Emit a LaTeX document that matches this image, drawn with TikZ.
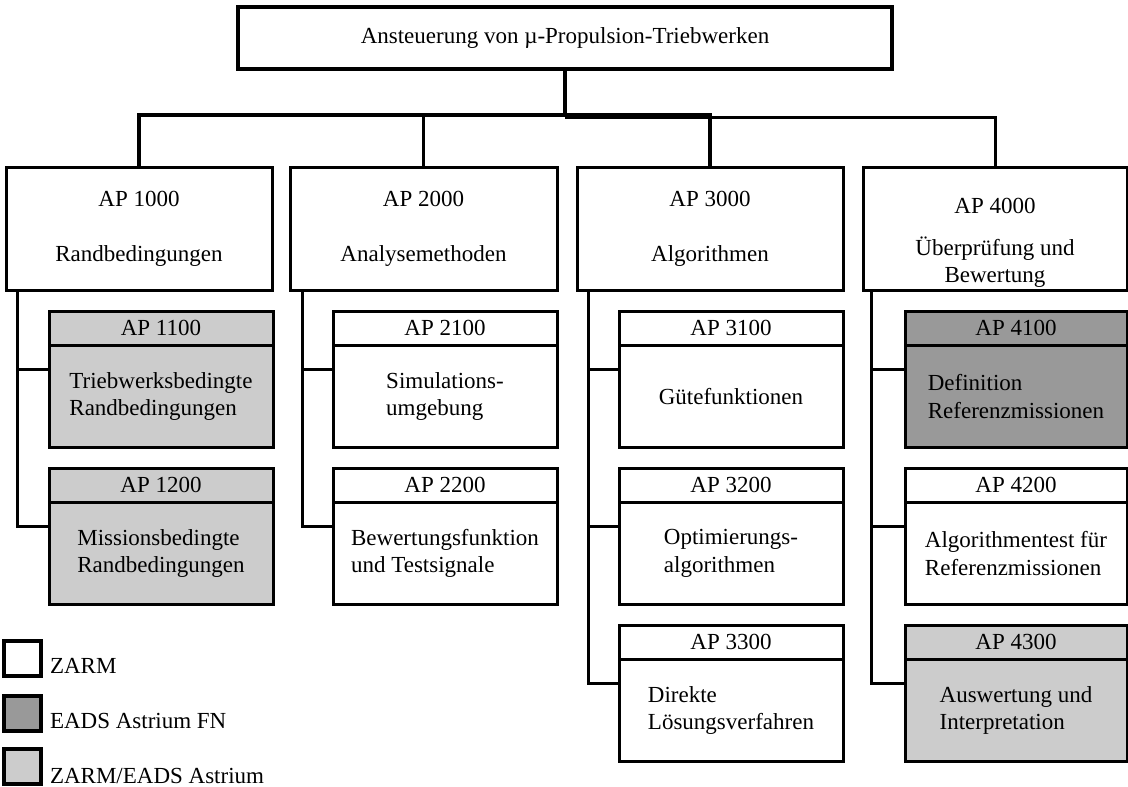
\documentclass[tikz,border=0pt]{standalone}
\usepackage{fontspec}
\setmainfont{Liberation Serif}
\definecolor{dgray}{HTML}{999999}
\definecolor{lgray}{HTML}{CCCCCC}
\tikzset{
  every node/.style={font=\fontsize{23}{27.5}\selectfont},
  box/.style={draw, line width=3pt, inner sep=0pt, outer sep=0pt, anchor=north west, align=center},
  lvone/.style={box, minimum height=123pt},
  hdr/.style={box, minimum height=34.5pt},
  bdy/.style={box, minimum height=102pt, align=left},
  conn/.style={line width=3pt},
  zarm/.style={fill=white},
  eads/.style={fill=dgray},
  both/.style={fill=lgray},
  legbox/.style={draw, line width=4.5pt, inner sep=0pt, outer sep=0pt, anchor=north west, minimum width=37pt, minimum height=35pt},
  legtxt/.style={anchor=base west, inner sep=0pt, outer sep=0pt},
}
\begin{document}
\begin{tikzpicture}[x=1pt, y=-1pt]
\useasboundingbox (0,0) rectangle (1128,787);

% title
\node[box, zarm, line width=4pt, minimum width=654pt, minimum height=62pt] (top) at (238,7) {Ansteuerung von µ-Propulsion-Triebwerken};

% level 1
\node[lvone, zarm, minimum width=266pt] (ap1000) at (6,167) {AP 1000\\[27.5pt]Randbedingungen};
\node[lvone, zarm, minimum width=267pt] (ap2000) at (290,167) {AP 2000\\[27.5pt]Analysemethoden};
\node[lvone, zarm, minimum width=266pt] (ap3000) at (577,167) {AP 3000\\[27.5pt]Algorithmen};
\node[lvone, zarm, minimum width=264pt] (ap4000) at (863,167) {};
\node[align=center, inner sep=0pt] (t4000) at (995,243) {AP 4000\\[14.5pt]Überprüfung und\\Bewertung};

% column 1
\node[hdr, both, minimum width=224pt] (h11) at (49,311) {AP 1100};
\node[bdy, both, minimum width=224pt] (b11) at (49,345.5) {Triebwerksbedingte\\Randbedingungen};
\node[hdr, both, minimum width=224pt] (h12) at (49,468) {AP 1200};
\node[bdy, both, minimum width=224pt] (b12) at (49,502.5) {Missionsbedingte\\Randbedingungen};

% column 2
\node[hdr, zarm, minimum width=224pt] (h21) at (333,311) {AP 2100};
\node[bdy, zarm, minimum width=224pt] (b21) at (333,345.5) {Simulations-\\umgebung};
\node[hdr, zarm, minimum width=224pt] (h22) at (333,468) {AP 2200};
\node[bdy, zarm, minimum width=224pt] (b22) at (333,502.5) {Bewertungsfunktion\\und Testsignale};

% column 3
\node[hdr, zarm, minimum width=224pt] (h31) at (619,311) {AP 3100};
\node[bdy, zarm, minimum width=224pt] (b31) at (619,345.5) {Gütefunktionen};
\node[hdr, zarm, minimum width=224pt] (h32) at (619,468) {AP 3200};
\node[bdy, zarm, minimum width=224pt] (b32) at (619,502.5) {Optimierungs-\\algorithmen};
\node[hdr, zarm, minimum width=224pt] (h33) at (619,625) {AP 3300};
\node[bdy, zarm, minimum width=224pt] (b33) at (619,659.5) {Direkte\\Lösungsverfahren};

% column 4
\node[hdr, eads, minimum width=222pt] (h41) at (905,311) {AP 4100};
\node[bdy, eads, minimum width=222pt] (b41) at (905,345.5) {Definition\\Referenzmissionen};
\node[hdr, zarm, minimum width=222pt] (h42) at (905,468) {AP 4200};
\node[bdy, zarm, minimum width=222pt] (b42) at (905,502.5) {Algorithmentest für\\Referenzmissionen};
\node[hdr, both, minimum width=222pt] (h43) at (905,625) {AP 4300};
\node[bdy, both, minimum width=222pt] (b43) at (905,659.5) {Auswertung und\\Interpretation};

% bus
\coordinate (busL) at (565,115);
\coordinate (busR) at (565,117);
\draw[line width=4pt] (top.south) -- (busL);
\draw[conn, line width=3.5pt] (ap1000.north) |- (busL) -| (ap3000.north);
\draw[conn] (ap2000.north) -- (ap2000.north |- busL);
\draw[conn] (busR) -| (ap4000.north);

% spines
\draw[conn] ([xshift=11pt]ap1000.south west) |- ([yshift=-24pt]h11.south west)
            ([xshift=11pt]ap1000.south west) |- ([yshift=-24pt]h12.south west);
\draw[conn] ([xshift=12pt]ap2000.south west) |- ([yshift=-24pt]h21.south west)
            ([xshift=12pt]ap2000.south west) |- ([yshift=-24pt]h22.south west);
\draw[conn] ([xshift=11pt]ap3000.south west) |- ([yshift=-24pt]h31.south west)
            ([xshift=11pt]ap3000.south west) |- ([yshift=-24pt]h32.south west)
            ([xshift=11pt]ap3000.south west) |- ([yshift=-24pt]h33.south west);
\draw[conn] ([xshift=8pt]ap4000.south west) |- ([yshift=-24pt]h41.south west)
            ([xshift=8pt]ap4000.south west) |- ([yshift=-24pt]h42.south west)
            ([xshift=8pt]ap4000.south west) |- ([yshift=-24pt]h43.south west);

% legend
\node[legbox, zarm] (lz) at (4,641) {};
\node[legbox, eads] (le) at (4,696) {};
\node[legbox, both] (lb) at (4,749) {};
\node[legtxt] (tz) at (50,673) {ZARM};
\node[legtxt] (te) at (50,728) {EADS Astrium FN};
\node[legtxt] (tb) at (50,783) {ZARM/EADS Astrium};
\end{tikzpicture}
\end{document}
